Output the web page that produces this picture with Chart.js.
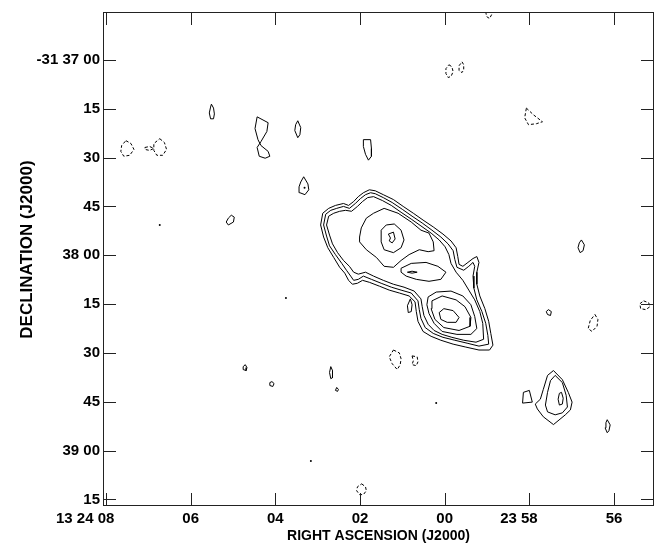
<!DOCTYPE html>
<html>
<head>
<meta charset="utf-8">
<script src="https://cdn.jsdelivr.net/npm/chart.js@4"></script>
<style>
  html, body { margin: 0; padding: 0; background: #fff; }
  canvas { display: block; }
</style>
</head>
<body>
<canvas id="map" width="663" height="548"></canvas>
<script>
// x = RA in seconds of time from 13h24m00s (negative values are 13h23m..)
// y = Dec in arcsec south of -31d36m00s (so 60 = -31 37 00)
const raTicks = [8, 6, 4, 2, 0, -2, -4];
const raLabels = ['13 24 08', '06', '04', '02', '00', '23 58', '56'];
const decTicks = [60, 75, 90, 105, 120, 135, 150, 165, 180, 195];
const decLabels = ['-31 37 00', '15', '30', '45', '38 00', '15', '30', '45', '39 00', '15'];

// positive contours (solid), each a closed list of [ra, dec]
const mainOuter1 = [[2.88,107.1],[2.74,105.6],[2.58,104.7],[2.39,104.1],[2.27,104.7],[2.15,103.5],[2.04,102.0],[1.92,100.8],[1.78,99.9],[1.64,100.2],[1.45,101.4],[1.21,102.9],[0.98,105.0],[0.74,107.1],[0.51,109.2],[0.27,111.3],[0.04,113.5],[-0.15,115.6],[-0.27,117.7],[-0.31,120.4],[-0.34,122.8],[-0.43,123.4],[-0.55,122.2],[-0.67,121.0],[-0.76,120.4],[-0.81,122.2],[-0.76,125.2],[-0.76,128.9],[-0.83,132.5],[-0.95,136.4],[-1.04,140.3],[-1.09,144.0],[-1.14,147.6],[-1.06,149.1],[-0.81,149.1],[-0.50,148.2],[-0.20,147.3],[0.09,146.1],[0.32,144.9],[0.51,143.4],[0.63,140.3],[0.67,137.3],[0.70,134.3],[0.84,132.5],[1.07,131.6],[1.31,130.7],[1.54,129.5],[1.78,128.3],[1.94,127.7],[2.06,128.6],[2.18,128.9],[2.27,127.7],[2.36,125.5],[2.48,123.7],[2.62,120.7],[2.76,117.7],[2.86,114.4],[2.93,110.7],[2.88,107.1]];
const mainOuter2 = [[2.81,107.4],[2.69,106.2],[2.55,105.6],[2.39,105.0],[2.25,105.6],[2.11,104.1],[1.99,102.6],[1.87,101.4],[1.75,100.8],[1.64,101.1],[1.45,102.3],[1.24,103.8],[1.00,105.9],[0.77,108.0],[0.53,110.1],[0.30,112.3],[0.09,114.4],[-0.08,116.5],[-0.20,118.6],[-0.24,121.3],[-0.29,123.7],[-0.45,124.6],[-0.57,123.4],[-0.67,122.2],[-0.71,123.4],[-0.67,126.4],[-0.69,130.1],[-0.76,133.7],[-0.88,137.3],[-0.97,140.9],[-1.02,144.6],[-1.04,147.3],[-0.81,147.9],[-0.53,147.0],[-0.24,146.1],[0.04,145.2],[0.27,144.0],[0.46,142.2],[0.56,139.4],[0.60,136.7],[0.63,134.0],[0.79,131.6],[1.03,130.7],[1.26,129.8],[1.50,128.6],[1.73,127.4],[1.92,126.4],[2.04,127.4],[2.15,127.7],[2.22,126.4],[2.32,124.6],[2.43,122.5],[2.58,119.8],[2.72,117.1],[2.79,114.1],[2.86,110.7],[2.81,107.4]];
const mainOuter3 = [[2.74,108.0],[2.62,107.1],[2.48,106.5],[2.34,106.2],[2.20,106.5],[2.06,105.0],[1.94,103.5],[1.82,102.3],[1.68,102.0],[1.47,103.2],[1.26,104.7],[1.03,106.8],[0.79,108.9],[0.56,111.0],[0.32,113.2],[0.13,115.3],[-0.01,117.4],[-0.10,119.8],[-0.15,122.5],[-0.27,125.2],[-0.43,127.7],[-0.57,130.7],[-0.71,133.7],[-0.83,137.3],[-0.90,140.9],[-0.92,145.8],[-0.74,146.7],[-0.45,146.1],[-0.17,145.2],[0.06,144.3],[0.25,143.1],[0.39,141.2],[0.49,138.5],[0.53,135.8],[0.56,133.4],[0.72,131.0],[0.96,129.8],[1.21,128.9],[1.45,127.7],[1.68,126.4],[1.87,125.2],[2.04,125.8],[2.15,125.2],[2.25,123.4],[2.39,121.6],[2.53,119.2],[2.65,116.5],[2.72,113.8],[2.79,110.7],[2.74,108.0]];
const nwLobe1 = [[2.01,114.4],[1.97,111.6],[1.85,108.6],[1.68,107.1],[1.43,105.6],[1.10,107.1],[0.79,109.8],[0.56,112.3],[0.37,113.2],[0.27,115.9],[0.25,118.6],[0.39,118.9],[0.60,118.3],[0.84,119.8],[1.03,121.6],[1.21,123.7],[1.43,123.4],[1.61,120.7],[1.85,118.3],[2.01,115.9],[2.01,114.4]];
const nwLobe2 = [[1.50,112.3],[1.38,110.7],[1.19,110.4],[1.03,112.3],[0.96,115.3],[1.03,117.7],[1.21,119.2],[1.43,118.3],[1.50,115.9],[1.50,112.3]];
const nwLobe3 = [[1.33,113.5],[1.21,112.9],[1.17,115.0],[1.24,116.2],[1.31,115.6],[1.28,114.7],[1.33,113.5]];
const midBlob = [[1.03,124.0],[0.79,122.5],[0.44,122.2],[0.16,123.4],[-0.03,125.2],[0.09,127.4],[0.37,128.0],[0.67,127.4],[0.91,126.4],[1.03,125.2],[1.03,124.0]];
const midSpot = [[0.88,125.2],[0.77,124.9],[0.65,125.2],[0.77,125.5],[0.88,125.2]];
const gapSpot = [[0.81,133.4],[0.77,135.2],[0.79,137.3],[0.86,137.6],[0.88,135.5],[0.81,133.4]];
const seLobe1 = [[0.39,132.8],[0.20,131.3],[-0.15,131.0],[-0.43,132.5],[-0.62,135.2],[-0.71,138.8],[-0.76,142.5],[-0.62,144.3],[-0.29,144.3],[0.06,143.4],[0.25,140.9],[0.37,137.9],[0.42,135.2],[0.39,132.8]];
const seLobe2 = [[0.30,134.0],[0.06,132.5],[-0.27,133.7],[-0.48,135.8],[-0.62,139.1],[-0.60,141.8],[-0.34,143.1],[0.02,142.2],[0.23,139.7],[0.32,136.4],[0.30,134.0]];
const seLobe3 = [[0.13,137.6],[0.02,136.4],[-0.20,137.0],[-0.34,139.1],[-0.27,140.6],[-0.06,140.6],[0.09,139.7],[0.13,137.6]];
const srcB1 = [[-2.57,155.4],[-2.78,158.2],[-2.92,162.1],[-3.01,165.1],[-2.97,167.5],[-2.85,169.0],[-2.57,172.0],[-2.33,169.6],[-2.19,167.2],[-2.14,165.7],[-2.26,164.2],[-2.33,161.2],[-2.43,156.9],[-2.57,155.4]];
const srcB2 = [[-2.61,156.9],[-2.78,159.1],[-2.87,163.0],[-2.90,166.6],[-2.78,168.4],[-2.61,169.0],[-2.43,168.1],[-2.38,166.0],[-2.43,162.1],[-2.50,158.5],[-2.61,156.9]];
const srcB3 = [[-2.76,162.1],[-2.80,163.9],[-2.78,165.7],[-2.71,166.0],[-2.68,164.2],[-2.71,162.4],[-2.76,162.1]];
const srcBside = [[-1.86,162.1],[-2.00,161.5],[-2.07,165.1],[-1.84,165.4],[-1.86,162.1]];
const blobs = [
  [[5.51,73.6],[5.46,74.8],[5.44,76.6],[5.46,78.1],[5.53,78.1],[5.56,76.3],[5.53,74.5],[5.51,73.6]],
  [[4.43,77.5],[4.17,79.3],[4.20,82.0],[4.34,85.1],[4.43,86.9],[4.38,89.6],[4.24,90.2],[4.13,89.6],[4.17,88.1],[4.34,86.3],[4.41,84.5],[4.48,81.1],[4.43,77.5]],
  [[3.47,78.7],[3.40,80.8],[3.42,83.0],[3.47,83.9],[3.54,81.7],[3.52,79.9],[3.47,78.7]],
  [[1.92,84.5],[1.75,84.5],[1.73,87.2],[1.73,89.6],[1.80,90.8],[1.87,89.0],[1.92,86.6],[1.92,84.5]],
  [[3.33,95.9],[3.23,98.1],[3.21,99.9],[3.30,101.4],[3.42,100.8],[3.44,99.0],[3.40,97.5],[3.33,95.9]],
  [[5.04,107.7],[4.97,108.3],[4.99,109.8],[5.11,110.7],[5.16,109.8],[5.11,108.6],[5.04,107.7]],
  [[4.71,153.6],[4.67,154.5],[4.69,155.4],[4.76,155.1],[4.76,154.2],[4.71,153.6]],
  [[4.08,158.8],[4.03,159.4],[4.06,160.3],[4.13,160.0],[4.13,159.1],[4.08,158.8]],
  [[2.69,154.2],[2.65,155.4],[2.65,157.6],[2.69,157.9],[2.72,156.0],[2.69,154.2]],
  [[2.55,160.6],[2.51,161.2],[2.53,161.8],[2.58,161.5],[2.55,160.6]],
  [[-3.23,115.3],[-3.30,116.8],[-3.27,118.6],[-3.20,119.2],[-3.15,117.7],[-3.18,116.2],[-3.23,115.3]],
  [[-2.45,136.7],[-2.52,137.3],[-2.50,138.5],[-2.43,138.2],[-2.40,137.3],[-2.45,136.7]],
  [[-3.84,170.5],[-3.91,172.1],[-3.88,173.9],[-3.84,174.5],[-3.79,173.0],[-3.81,171.4],[-3.84,170.5]]
];
// negative contours (dashed)
const negatives = [
  [[-0.99,43.7],[-1.09,44.6],[-1.11,46.1],[-1.06,47.3],[-0.99,46.7],[-0.97,45.2],[-0.99,43.7]],
  [[-0.10,61.5],[-0.17,62.1],[-0.20,63.6],[-0.15,65.1],[-0.08,65.4],[-0.03,64.2],[-0.03,62.7],[-0.10,61.5]],
  [[-0.41,60.6],[-0.45,61.5],[-0.45,63.0],[-0.41,63.9],[-0.34,63.3],[-0.34,61.8],[-0.41,60.6]],
  [[-1.93,74.8],[-2.10,76.9],[-2.31,79.0],[-2.17,79.6],[-1.98,79.9],[-1.89,77.8],[-1.93,74.8]],
  [[7.53,84.8],[7.41,85.7],[7.34,87.5],[7.44,89.3],[7.58,89.6],[7.65,88.1],[7.63,86.3],[7.53,84.8]],
  [[6.73,84.2],[6.62,85.4],[6.57,87.5],[6.66,89.3],[6.80,89.3],[6.87,87.8],[6.87,85.7],[6.73,84.2]],
  [[7.08,86.9],[6.97,86.6],[6.87,87.2],[6.97,87.8],[7.08,87.5],[7.08,86.9]],
  [[1.21,149.1],[1.07,150.0],[1.03,151.8],[1.05,153.6],[1.12,155.1],[1.24,153.3],[1.31,151.2],[1.21,149.1]],
  [[0.77,150.9],[0.65,151.2],[0.63,152.7],[0.67,153.9],[0.77,153.6],[0.74,152.4],[0.77,150.9]],
  [[1.96,190.2],[1.87,191.1],[1.85,192.3],[1.92,193.5],[2.01,193.5],[2.08,192.3],[2.06,191.1],[1.96,190.2]],
  [[-3.55,138.2],[-3.62,139.7],[-3.60,141.8],[-3.48,143.4],[-3.39,142.5],[-3.44,140.0],[-3.55,138.2]],
  [[-4.70,134.0],[-4.82,134.6],[-4.85,135.8],[-4.75,136.7],[-4.63,136.4],[-4.61,134.9],[-4.70,134.0]]
];
// single-pixel peaks
const spots = [[3.31,99.3],[6.73,110.7],[3.75,133.1],[0.20,165.4],[3.16,183.2]];

const positives = [mainOuter1, mainOuter2, mainOuter3, nwLobe1, nwLobe2, nwLobe3, midBlob, midSpot, gapSpot,
  seLobe1, seLobe2, seLobe3, srcB1, srcB2, srcB3, srcBside].concat(blobs);

const toXY = c => c.map(p => ({x: p[0], y: p[1]}));
const datasets = [];
positives.forEach(c => datasets.push({
  data: toXY(c), showLine: true, pointRadius: 0, borderColor: '#000', borderWidth: 1, tension: 0
}));
negatives.forEach(c => datasets.push({
  data: toXY(c), showLine: true, pointRadius: 0, borderColor: '#000', borderWidth: 1,
  borderDash: [3, 2], tension: 0
}));
datasets.push({data: toXY(spots), showLine: false, pointRadius: 1, borderWidth: 0, backgroundColor: '#000'});

// frame plus inward ticks on all four sides
const frameTicks = {
  id: 'frameTicks',
  afterDraw(chart) {
    const {ctx, chartArea: a, scales: {x, y}} = chart;
    const len = 13;
    ctx.save();
    ctx.strokeStyle = '#222';
    ctx.lineWidth = 1;
    ctx.strokeRect(a.left + 0.5, a.top + 0.5, a.right - a.left - 1, a.bottom - a.top - 1);
    ctx.beginPath();
    raTicks.forEach(v => {
      const px = Math.round(x.getPixelForValue(v)) + 0.5;
      ctx.moveTo(px, a.bottom); ctx.lineTo(px, a.bottom - len);
      ctx.moveTo(px, a.top); ctx.lineTo(px, a.top + len);
    });
    decTicks.forEach(v => {
      const py = Math.round(y.getPixelForValue(v)) + 0.5;
      ctx.moveTo(a.left, py); ctx.lineTo(a.left + len, py);
      ctx.moveTo(a.right, py); ctx.lineTo(a.right - len, py);
    });
    ctx.stroke();
    ctx.restore();
  }
};

// the seconds part of an RA label sits on its tick: pad the label on the right
// by as many spaces as the hours/minutes prefix is wide
function raLabel(v) {
  const s = raLabels[raTicks.indexOf(v)];
  const cut = s.lastIndexOf(' ');
  if (cut < 0) return s;
  const ctx = document.createElement('canvas').getContext('2d');
  ctx.font = 'bold 15px "Liberation Sans", Arial, sans-serif';
  const prefix = ctx.measureText(s.slice(0, cut + 1)).width;
  const sp = ctx.measureText(' ').width;
  return s + ' '.repeat(Math.round(prefix / sp));
}

const fam = "'Liberation Sans', Arial, sans-serif";

new Chart(document.getElementById('map'), {
  type: 'scatter',
  data: {datasets: datasets},
  options: {
    responsive: false,
    animation: false,
    layout: {padding: {top: 3, right: 9, left: 0, bottom: 0}},
    plugins: {legend: {display: false}, tooltip: {enabled: false}},
    scales: {
      x: {
        type: 'linear', reverse: true, min: -4.945, max: 8.071,
        grid: {display: false, drawTicks: false}, border: {display: false},
        afterBuildTicks: s => { s.ticks = raTicks.map(v => ({value: v})); },
        afterFit: s => { s.height = 42; },
        ticks: {
          color: '#000', font: {family: fam, size: 15, weight: 'bold'}, padding: 4, maxRotation: 0, autoSkip: false,
          callback: v => raLabel(v)
        },
        title: {display: true, text: 'RIGHT ASCENSION (J2000)', color: '#000',
          font: {family: fam, size: 14, weight: 'bold'}, padding: {top: 0, bottom: 3}}
      },
      y: {
        type: 'linear', reverse: true, min: 45.3, max: 197.0,
        grid: {display: false, drawTicks: false}, border: {display: false},
        afterBuildTicks: s => { s.ticks = decTicks.map(v => ({value: v})); },
        afterFit: s => { s.width = 103; },
        ticks: {
          color: '#000', font: {family: fam, size: 15, weight: 'bold'}, padding: 3, autoSkip: false,
          callback: v => decLabels[decTicks.indexOf(v)]
        },
        title: {display: true, text: '    DECLINATION (J2000)', color: '#000',
          font: {family: fam, size: 17, weight: 'bold'}, padding: {top: 17, bottom: 0}}
      }
    }
  },
  plugins: [frameTicks]
});
</script>
</body>
</html>
